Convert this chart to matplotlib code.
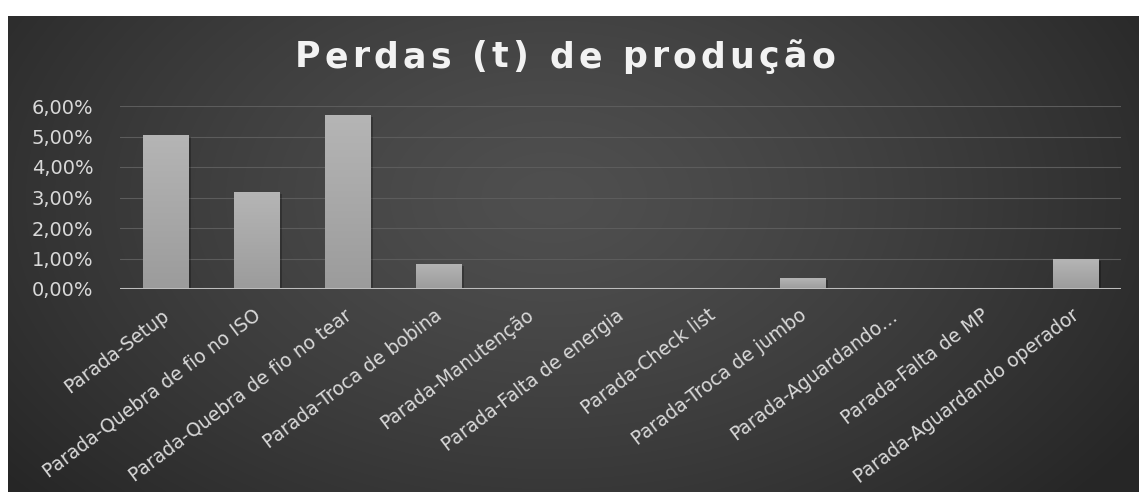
import numpy as np
import matplotlib
matplotlib.use("Agg")
import matplotlib.pyplot as plt
from matplotlib.transforms import ScaledTranslation
from matplotlib.font_manager import FontProperties

categories = ["Parada-Setup", "Parada-Quebra de fio no ISO", "Parada-Quebra de fio no tear",
              "Parada-Troca de bobina", "Parada-Manutenção", "Parada-Falta de energia",
              "Parada-Check list", "Parada-Troca de jumbo", "Parada-Aguardando…",
              "Parada-Falta de MP", "Parada-Aguardando operador"]
values = [5.05, 3.18, 5.70, 0.82, 0.0, 0.0, 0.0, 0.36, 0.0, 0.0, 0.97]
yticks = [0, 1, 2, 3, 4, 5, 6]
ytick_labels = ["0,00%", "1,00%", "2,00%", "3,00%", "4,00%", "5,00%", "6,00%"]
title = "Perdas (t) de produção"

W, H = 1139, 492
fig = plt.figure(figsize=(W / 100, H / 100), dpi=100)
fig.patch.set_facecolor("white")

# background panel with radial gradient
bx0, by0 = 8, 16
bg = fig.add_axes([bx0 / W, 0, 1 - bx0 / W, 1 - by0 / H])
bg.set_axis_off()
ny, nx = 300, 700
yy, xx = np.mgrid[0:ny, 0:nx]
cx, cy = nx * 0.48, ny * 0.38
d = np.sqrt(((xx - cx) / (nx * 0.62)) ** 2 + ((yy - cy) / (ny * 0.95)) ** 2)
d = np.clip(d, 0, 1)
g = 0.31 - (0.31 - 0.15) * d ** 1.3
img = np.dstack([g, g, g])
bg.imshow(img, aspect="auto", extent=[0, 1, 0, 1], origin="upper", interpolation="bilinear")
bg.set_xlim(0, 1)
bg.set_ylim(0, 1)

# main axes
left, right = 120 / W, 1121 / W
bottom, top = 1 - 289 / H, 1 - 106 / H
ax = fig.add_axes([left, bottom, right - left, top - bottom])
ax.set_facecolor("none")
x = np.arange(len(categories))

for yv in yticks[1:]:
    ax.axhline(yv, color="#5c5c5c", lw=0.8, zorder=1)

bw = 0.5
shadow_off = ScaledTranslation(3 / 100, -2 / 100, fig.dpi_scale_trans)
for xi, v in zip(x, values):
    if v > 0:
        ax.bar(xi, v, width=bw, color="black", alpha=0.25, zorder=2,
               transform=ax.transData + shadow_off)
bars = ax.bar(x, values, width=bw, color="#a8a8a8", zorder=3, edgecolor="none")
grad = np.linspace(0.71, 0.61, 100).reshape(-1, 1)
for b in bars:
    if b.get_height() <= 0:
        continue
    x0b, y0b = b.get_x(), b.get_y()
    im = ax.imshow(np.dstack([grad, grad, grad]), aspect="auto",
                   extent=[x0b, x0b + b.get_width(), y0b, y0b + b.get_height()],
                   origin="upper", zorder=4, interpolation="bilinear")
    im.set_clip_path(b)
ax.set_xlim(-0.5, len(categories) - 0.5)
ax.set_ylim(0, 6)

ax.axhline(0, color="#bdbdbd", lw=2.2, zorder=5)
for s in ax.spines.values():
    s.set_visible(False)

ax.set_yticks(yticks)
ax.set_yticklabels(ytick_labels, fontsize=14, color="#d9d9d9", family="DejaVu Sans")
ax.tick_params(axis="y", length=0, pad=19)
ax.set_xticks(x)
ax.set_xticklabels(categories, rotation=37, ha="right", rotation_mode="anchor",
                   fontsize=13.5, color="#d9d9d9", family="DejaVu Sans")
ax.tick_params(axis="x", length=0, pad=12)
off = ScaledTranslation(-4 / 100, 0, fig.dpi_scale_trans)
for lab in ax.get_xticklabels():
    lab.set_transform(lab.get_transform() + off)

# letter-spaced title
renderer = fig.canvas.get_renderer()
fp = FontProperties(family="DejaVu Sans", weight="bold", size=25)

def tw(s):
    w, h, dsc = renderer.get_text_width_height_descent(s, fp, ismath=False)
    return w

ref = "|"
natural = tw(title)
target = 540
n = len(title)
spacing = max(0.0, (target - natural) / (n - 1))
total = natural + spacing * (n - 1)
x_start = 565 - total / 2
base_y = H - 67
for i, ch in enumerate(title):
    if ch == " ":
        continue
    pos = (tw(title[:i] + ref) - tw(ref)) if i > 0 else 0
    fig.text((x_start + pos + i * spacing) / W, base_y / H, ch, fontproperties=fp,
             color="#f2f2f2", ha="left", va="baseline")

fig.savefig("out.png", dpi=100, facecolor=fig.get_facecolor())
